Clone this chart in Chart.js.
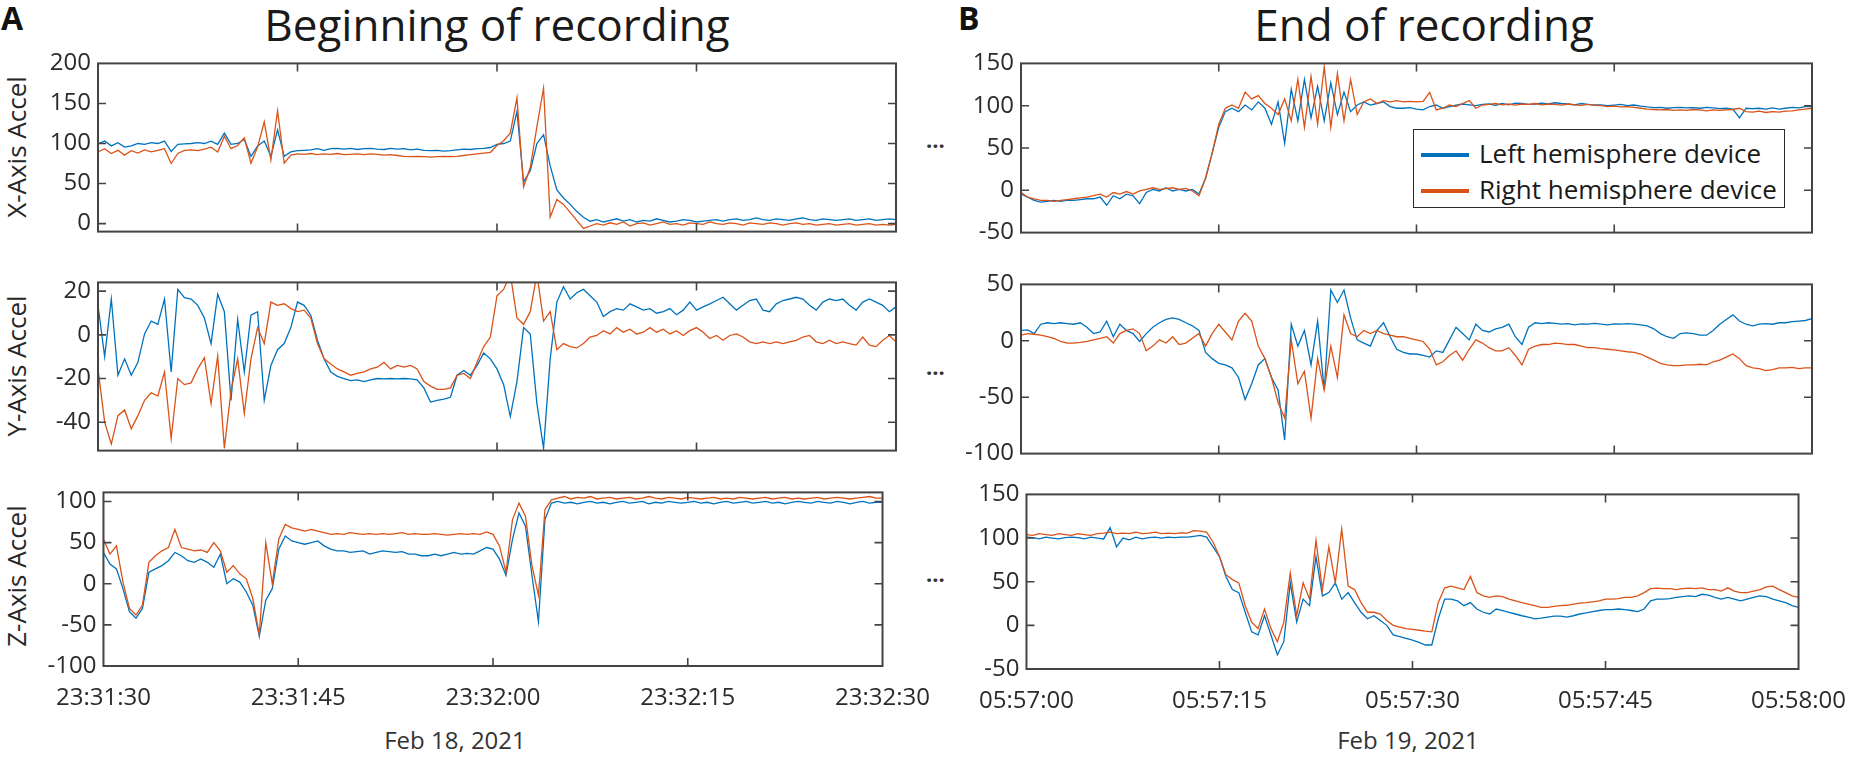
<!DOCTYPE html>
<html>
<head>
<meta charset="utf-8">
<script src="https://cdn.jsdelivr.net/npm/chart.js@4.4.1/dist/chart.umd.min.js"></script>
<style>
  html, body { margin:0; padding:0; background:#fff; }
  body { width:1869px; height:757px; position:relative; overflow:hidden; font-family:'Open Sans', sans-serif; color:#262626; }
  canvas { position:absolute; }
  .txt { position:absolute; white-space:nowrap; line-height:1; }
  .title { font-size:44px; color:#1a1a1a; }
  .panel { font-size:32px; font-weight:bold; color:#111; }
  .ylab { font-size:26px; transform-origin:center center; text-align:center; width:240px; }
  .date { font-size:24px; color:#333; }
  .dots { font-size:22px; font-weight:bold; color:#333; }
  #legend { position:absolute; left:1413px; top:129px; width:372px; height:79px; border:1.5px solid #2a2a2a; background:#fff; box-sizing:border-box; z-index:5; }
  #legend .sw { position:absolute; left:7px; width:48px; height:4px; }
  #legend .lt { position:absolute; left:65px; font-size:26px; line-height:1; color:#1a1a1a; white-space:nowrap; }
</style>
</head>
<body>

<div class="txt panel" style="left:1px; top:2px;">A</div>
<div class="txt panel" style="left:958px; top:2px;">B</div>
<div class="txt title" style="left:497px; top:2px; transform:translateX(-50%);">Beginning of recording</div>
<div class="txt title" style="left:1424px; top:2px; transform:translateX(-50%);">End of recording</div>

<div class="txt ylab" style="left:-104px; top:134px; transform:rotate(-90deg);">X-Axis Accel</div>
<div class="txt ylab" style="left:-104px; top:353px; transform:rotate(-90deg);">Y-Axis Accel</div>
<div class="txt ylab" style="left:-104px; top:563px; transform:rotate(-90deg);">Z-Axis Accel</div>

<div class="txt dots" style="left:926px; top:128px;">...</div>
<div class="txt dots" style="left:926px; top:355px;">...</div>
<div class="txt dots" style="left:926px; top:562px;">...</div>

<div class="txt date" style="left:455px; top:728px; transform:translateX(-50%);">Feb 18, 2021</div>
<div class="txt date" style="left:1408px; top:728px; transform:translateX(-50%);">Feb 19, 2021</div>

<div id="legend">
  <div class="sw" style="top:23px; background:#0072BD;"></div>
  <div class="lt" style="top:10px;">Left hemisphere device</div>
  <div class="sw" style="top:59px; background:#D95319;"></div>
  <div class="lt" style="top:46px;">Right hemisphere device</div>
</div>

<canvas id="cAX"></canvas>
<canvas id="cAY"></canvas>
<canvas id="cAZ"></canvas>
<canvas id="cBX"></canvas>
<canvas id="cBY"></canvas>
<canvas id="cBZ"></canvas>

<script>
// ---------------- DATA ----------------
// sample times in seconds from start of each one-minute window
const times = [0,0.5,1,1.5,2,2.5,3,3.5,4,4.5,5,5.5,6,6.5,7,7.5,8,8.5,9,9.5,
10,10.5,11,11.5,12,12.5,13,13.5,14,14.5,15,15.5,16,16.5,17,17.5,18,18.5,19,19.5,
20,20.5,21,21.5,22,22.5,23,23.5,24,24.5,25,25.5,26,26.5,27,27.5,28,28.5,29,29.5,
30,30.5,31,31.5,32,32.5,33,33.5,34,34.5,35,35.5,36,36.5,37,37.5,38,38.5,39,39.5,
40,40.5,41,41.5,42,42.5,43,43.5,44,44.5,45,45.5,46,46.5,47,47.5,48,48.5,49,49.5,
50,50.5,51,51.5,52,52.5,53,53.5,54,54.5,55,55.5,56,56.5,57,57.5,58,58.5,59,59.5,60];

const tickLabelsA = ['23:31:30','23:31:45','23:32:00','23:32:15','23:32:30'];
const tickLabelsB = ['05:57:00','05:57:15','05:57:30','05:57:45','05:58:00'];
const seriesNames = ['Left hemisphere device','Right hemisphere device'];

// Panel A (beginning of recording)
const aXLeft = [99.5,103,97,101,95.5,97,100,99,101,100,
103,90,99,99.5,100,101,100,103,99,113,
99,100,105,84,97,103,84,117,84,89.5,
91,91.5,92,93.5,91.5,93.5,94,93,94,92.5,
93.5,94,93,92.5,94,93,93.5,92,93,91.5,
91,91.5,90.5,91,92,93,92.5,93.5,94,95,
99,100,103,140,52,66,100,111,72,42,
32,24,15,8,3,
5,2,4,6,3,5,2,4,3,6,4,2,3,5,4,2,3,4,5,3,5,6,4,5,7,5,4,6,5,4,6,7,5,4,6,5,4,5,6,4,5,6,4,5,6,5];
const aXRight = [89.5,93.5,87.5,91.5,85.5,91,88,92,89.5,91.5,
93.5,75,87.5,91.5,92,91,93,95.5,89.5,109,
93.5,97.5,107,75.5,95.5,127,79.5,141,75.5,85.5,
87,86.5,87.5,86,87,86.5,87.5,86,86.5,87,
86,87,86.5,85.5,86,85,84,83.5,84,83.5,
83,83.5,84,83.5,84,85,86,87,88,89,
97.5,103.5,113,157,46,70,121,169,8,30,
24,14,4,-6,-3,
0,-2,1,-1,2,-3,0,1,-2,0,2,-1,0,-2,1,0,-1,2,0,-1,1,0,-2,1,0,-1,1,0,-2,0,1,-1,0,-2,-1,0,-2,-1,0,-2,-1,0,-2,-1,-2,-1];

const aYLeft = [13.5,-10,16.4,-18.5,-11,-18.5,-12.6,0.4,6.3,4.8,
16.4,-17,20.8,17,16.4,13.5,7.7,-4,18.6,10.6,
-30,7,-17,9,10.6,-30,-14,-6.8,-4,3.3,
15,13.5,9,-2.5,-11,-17,-19,-20,-21,-20.6,
-21.4,-20.6,-20,-20.2,-20,-20.2,-20,-20.2,-20.6,-24.3,
-30.8,-30,-29.4,-28.6,-18.5,-16.3,-18.5,-14,-8.3,-11,
-15.6,-22.8,-37.4,-21.4,3.3,0.4,-31.5,-52,-11,15,
22,16.4,19.3,20.8,17.9,15,8.4,10.6,12,11.3,
14.2,12.8,11.3,12,9.9,10.6,12,9.2,11.3,15,
11.3,12.8,14.2,15.7,17.2,14.2,11.3,13.5,15.7,16.4,
11.3,10.6,14.2,15.7,16.4,17.2,16.4,13.5,11.3,15,
16.4,15.7,16.4,13.5,11.3,15,16.4,15,13.5,10.6,
12.8];
const aYRight = [-15.6,-40,-50,-37,-34.4,-43,-37,-30,-26.5,-28,
-17,-47.5,-20,-22.8,-22,-15.6,-10.5,-31.5,-9.7,-52,
-25.7,-11,-36,-11,3.3,-4,15,13.5,14.2,12,
10.6,11.3,7.7,-4,-11,-13.4,-15.6,-17,-18.5,-17.7,
-17,-15.6,-14.8,-12.6,-15.6,-14,-14.8,-14,-15.6,-21.4,
-23.5,-25,-25,-24.3,-18.5,-17.7,-20,-12.6,-5.4,-1,
17.9,20.8,28,7.7,4.8,10.6,28,6.3,10.6,-6.8,
-4,-5.4,-6,-4,-1,-0.3,1.9,0.4,3.3,1.2,
2.6,0.4,1.2,3.3,1.2,2.6,0.4,1.9,-0.3,1.9,
3.3,1.2,-1.7,-0.3,-2.5,-0.3,0.4,-1,-3.2,-4,
-3.2,-4,-3.2,-4,-3.2,-2.5,-1,-0.3,-3.2,-4,
-2.5,-4,-3.2,-4,-4.7,-1,-4.7,-5.4,-2.5,-0.3,
-3.2];

const aZLeft = [38,24,18,-6,-34,-42,-30,14,18,22,
28,38,34,28,26,30,26,20,36,0,
6,2,-10,-26,-64,-20,-6,42,58,52,
50,48,50,52,46,42,40,40,38,39,
40,36,38,40,39,38,39,36,36,34,
34,36,34,36,38,36,37,36,40,44,
42,30,10,54,86,70,10,-46,78,98,
100,98,99,97,99,100,98,99,97,99,
100,98,99,100,97,99,98,100,99,98,
99,100,98,99,97,99,100,98,99,100,
98,99,100,98,99,97,99,100,99,98,
100,99,98,100,99,97,99,100,98,99,
99];
const aZRight = [54,36,46,2,-30,-38,-26,26,34,40,
44,66,44,42,40,41,38,50,40,14,
22,12,6,-18,-62,50,0,54,72,68,
66,64,66,64,62,60,61,60,62,61,
60,61,60,61,60,61,62,60,61,60,
60,61,60,59,60,61,60,61,60,63,
60,46,14,78,98,82,22,-14,90,102,
104,106,103,105,104,106,103,104,105,103,
104,105,103,104,106,104,103,105,104,103,
105,104,103,104,105,103,104,103,105,104,
103,104,105,103,104,105,103,104,103,104,
105,103,104,105,104,103,104,105,106,104,
104];

// Panel B (end of recording)
const bXLeft = [-4.5,-8,-12,-14,-13,-12,-13,-12,-12,-11,
-10,-10,-8,-17.7,-6.4,-10,-4.5,-6.4,-15.8,-2.6,
1.1,-0.8,3,-0.8,1.1,-0.8,1.1,-4.5,14.3,44,
74.4,93,97,93,100.8,95,104.5,97,78,104.5,
55.6,119.5,82,131,85.7,123,82,127,89.5,116,
93,100.8,104.5,100.8,102.6,104.5,99,97,97,97.7,
96,95,99,100.8,97,99,100.8,102,101,100,
101.5,102,100.5,102.6,101,103,102.6,101.5,102,103,
102,103.5,102.6,102,101,102.6,101.5,100.8,101,100,
100.8,101.5,100,100.8,99.5,98.5,97.7,98,97,97.7,
98,97.5,97.7,97,98,97.5,96.5,97,96,85.7,
97,96.5,97,96,97.5,96,97,98,97.5,99,
99];
const bXRight = [-2.6,-8,-10,-12,-12,-13,-12,-11,-10,-9,
-8,-6.4,-4.5,-8,-2.6,-4.5,-1.5,-4.5,-0.8,1.1,
3,1.1,1.9,3,1.1,2.3,-0.8,-6.4,14.3,44,
78,97,100.8,97,116,108,112,102.6,97,89.5,
108,82,131,74.4,134.6,78,146,74.4,138,82,
131,89.5,104.5,108,102.6,106,104.5,106,104.5,105,
104.5,105,115.8,95,97,100.8,99,102.6,106,97,
100.8,101.5,102.6,101,102,100.8,102,101.5,102.6,101,
102,101.5,100.8,102,101,100.5,101.5,100.8,100,99,
99.5,98.5,99,98,97,96,95.5,95,95.5,94.5,
95,94.5,95.5,95,94,95,94.5,95,95.5,97,
93,92.5,93.5,92,93,92.5,93.5,94,95,96,
97];

const bYLeft = [9.2,9.7,6.4,14.7,16,15.3,16,15.3,14.7,16,
12,6.4,7.8,17.5,3.6,14.7,9.2,6.4,-0.6,6.4,
12,16,18.9,20.3,18.9,16,13.3,9.2,-10.3,-15.8,
-20,-21.4,-24,-32.5,-52,-38,-21.4,-15.8,-32.5,-43.6,
-88,14.7,-4.7,9.2,-21.4,17.5,-43.6,45,34,45,
20.3,0.8,-2,-4.7,9.2,16,3.6,-7.5,-10.3,-11.7,
-11.7,-13,-14.4,-8.9,-10.3,0.8,12,6.4,0.8,14.7,
9.2,7.8,10.6,12,14.7,3.6,-3.3,12,16,15.3,
16,15.5,14.7,15.3,14.2,15,14.7,15.5,14.7,14.2,
15,14.7,15.3,14.7,14.2,13.3,10.6,6.4,3.6,2.2,
6.4,7,6.4,5,5,9.2,14.7,18.9,23,17.5,
14.7,13.3,14.7,15.3,14.7,16,16,17,17.5,18,
19.7];
const bYRight = [5,6.4,5.8,5,3.6,2.2,-0.6,-2,-2,-1.4,
-0.6,0.8,2.2,3.6,-2,6.4,9.2,10.6,6.4,-8.9,
-4.7,0.8,-2,3.6,-3.3,-2,2.2,6.4,-4.7,6.4,
14.7,7.8,0.8,17.5,24.4,17.5,-4.7,-15.8,-32.5,-54.7,
-68.6,0.8,-38,-27,-68.6,-15.8,-43.6,-4.7,-32.5,23,
6.4,3.6,9.2,6.4,9.2,6.4,5,3.6,3.6,2.2,
0.8,-0.6,-7.5,-21.4,-18.6,-13,-8.9,-17.2,-7.5,0.8,
-2,-6.1,-8.9,-8.9,-6.1,-13,-21.4,-7.5,-4.7,-3.3,
-3.3,-2,-2.5,-3.3,-3.3,-4.7,-6.1,-6.1,-6.9,-7.5,
-8,-8.9,-9.7,-10.3,-11.7,-14.4,-17.2,-20,-21.4,-22,
-22,-21.4,-21.4,-20.8,-21.4,-18.6,-17.2,-14.4,-11.7,-15.8,
-22,-24,-24.7,-26.4,-25.5,-24,-24,-23.6,-24.7,-24,
-24];

const bZLeft = [101,100.4,99,101,100,99,100.4,101,100.4,99,
101,100,99,112,90,100,98,101,99,100.4,
101,100,101,100.4,101,101,102,103,101,90,
78.7,56,41,37.5,15,-7.5,-11,11,-11,-33.7,
-18.7,48.7,3.7,30,22.5,78.7,33.7,37.5,48.7,30,
37.5,26,15,7.5,11,5.6,0,-11,-13,-15,
-17,-19.5,-22.5,-22.5,7.5,30,30,28,22.5,26,
18.7,15,13,18.7,17,15,13,11,9.4,7.5,
8.2,9.4,10.5,10.5,9.4,11,13,14.2,15.7,17,
18,18,18.7,18,17,15.7,18.7,28,30,30,
30.7,32,33,33.7,33,35.6,34.5,32,30,32,
30,28,30,32,33.7,33,30,28,26,22.5,
20.6];
const bZRight = [104,103,105,104,103,105,104,103,105,104,
103,105,105.6,106.7,105,105.6,105,106.7,105,105.6,
106.7,105,105.6,105,106,105.6,108.6,108,106.7,95.5,
78.7,58,52.4,48.7,22.5,3.7,-3.7,18.7,-3.7,-18.7,
3.7,60,11,48.7,30,97.4,41,90,48.7,110.5,
45,41,26,15,15,13,5.6,0,-1.9,-3.7,
-4.5,-5.6,-6.7,-7.5,26,43,45,43,41,56,
37.5,33.7,32,33.7,33,30,28,26,24.3,22.5,
20.6,20.6,21.7,22.5,23,24.3,25.5,26,27,28,
30,30,30.7,32,32,33.7,37.5,42,42.7,42,
42,41,42,42.7,42,43,41,41,39.3,43,
39.3,37.5,37.5,39.3,41,44,45,41,37.5,33.7,
32];

// ---------------- DRAWING ----------------
Chart.defaults.font.family = "'Open Sans', sans-serif";
const BLUE = '#0072BD', ORANGE = '#D95319';
const AXIS_W = 60, PAD_T = 16, PAD_R = 52, XLAB_H = 50;

const boxPlugin = {
  id: 'matlabBox',
  afterDatasetsDraw(chart) {
    const { ctx, chartArea: a, scales: { x, y } } = chart;
    ctx.save();
    ctx.strokeStyle = '#444';
    ctx.lineWidth = 1.6;
    ctx.beginPath();
    y.ticks.forEach(t => {
      const p = y.getPixelForValue(t.value);
      if (p <= a.top + 2 || p >= a.bottom - 2) return;
      ctx.moveTo(a.left, p); ctx.lineTo(a.left + 8, p);
      ctx.moveTo(a.right, p); ctx.lineTo(a.right - 8, p);
    });
    x.ticks.forEach(t => {
      const p = x.getPixelForValue(t.value);
      if (p <= a.left + 2 || p >= a.right - 2) return;
      ctx.moveTo(p, a.bottom); ctx.lineTo(p, a.bottom - 8);
      ctx.moveTo(p, a.top); ctx.lineTo(p, a.top + 8);
    });
    ctx.stroke();
    ctx.lineWidth = 2;
    ctx.strokeRect(a.left, a.top, a.right - a.left, a.bottom - a.top);
    ctx.restore();
  }
};

function makePanel(id, rect, left, right, yMin, yMax, yStep, xLabels, showX) {
  const cv = document.getElementById(id);
  const w = rect.r - rect.l + AXIS_W + PAD_R;
  const h = rect.b - rect.t + PAD_T + (showX ? XLAB_H : PAD_T);
  cv.width = w; cv.height = h;
  cv.style.width = w + 'px'; cv.style.height = h + 'px';
  cv.style.left = (rect.l - AXIS_W) + 'px';
  cv.style.top = (rect.t - PAD_T) + 'px';
  const mk = (arr) => times.map((t, i) => ({ x: t, y: arr[i] }));
  new Chart(cv, {
    type: 'line',
    data: {
      datasets: [
        { label: seriesNames[0], data: mk(left), borderColor: BLUE, borderWidth: 1.3, pointRadius: 0, tension: 0, fill: false, order: 1, clip: 0 },
        { label: seriesNames[1], data: mk(right), borderColor: ORANGE, borderWidth: 1.3, pointRadius: 0, tension: 0, fill: false, order: 0, clip: 0 }
      ]
    },
    options: {
      responsive: false,
      animation: false,
      events: [],
      devicePixelRatio: 1,
      layout: { padding: { top: PAD_T, right: PAD_R, left: 0, bottom: showX ? 0 : PAD_T } },
      plugins: { legend: { display: false }, tooltip: { enabled: false } },
      scales: {
        x: {
          type: 'linear', min: 0, max: 60,
          grid: { display: false, drawTicks: false }, border: { display: false },
          ticks: {
            stepSize: 15, display: showX, autoSkip: false, maxRotation: 0, padding: 18,
            color: '#2b2b2b', font: { size: 24 },
            callback: v => xLabels[Math.round(v / 15)]
          },
          afterFit: s => { s.height = showX ? XLAB_H : 0; }
        },
        y: {
          min: yMin, max: yMax,
          grid: { display: false, drawTicks: false }, border: { display: false },
          ticks: { stepSize: yStep, includeBounds: false, padding: 7, color: '#2b2b2b', font: { size: 24 } },
          afterFit: s => { s.width = AXIS_W; }
        }
      }
    },
    plugins: [boxPlugin]
  });
}

const rAX = { l: 98, r: 896, t: 58, b: 237 };
const rAY = { l: 98, r: 896, t: 277, b: 456 };
const rAZ = { l: 98, r: 896, t: 487, b: 666 };
const rBX = { l: 1021, r: 1812, t: 58, b: 238 };
const rBY = { l: 1021, r: 1812, t: 279, b: 459 };
const rBZ = { l: 1021, r: 1812, t: 489, b: 669 };

makePanel('cAX', rAX, aXLeft, aXRight, -10, 200, 50, tickLabelsA, false);
makePanel('cAY', rAY, aYLeft, aYRight, -53, 24, 20, tickLabelsA, false);
makePanel('cAZ', rAZ, aZLeft, aZRight, -100, 111, 50, tickLabelsA, true);
makePanel('cBX', rBX, bXLeft, bXRight, -50, 150, 50, tickLabelsB, false);
makePanel('cBY', rBY, bYLeft, bYRight, -100, 50, 50, tickLabelsB, false);
makePanel('cBZ', rBZ, bZLeft, bZRight, -50, 150, 50, tickLabelsB, true);
</script>
</body>
</html>
